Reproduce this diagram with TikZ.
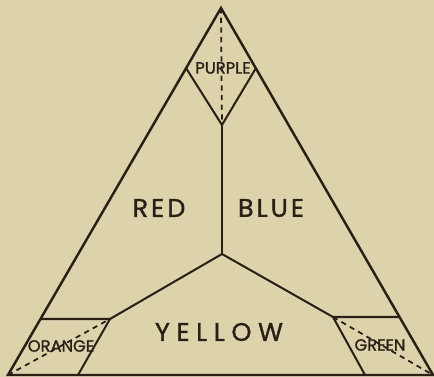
\documentclass[tikz,border=0pt]{standalone}
\usepackage{fontspec}
\setmainfont{Poppins}
\newfontfamily\labelfont{Poppins}[FakeBold=1.2]
\usetikzlibrary{positioning}
\definecolor{paper}{RGB}{221,211,171}
\definecolor{ink}{RGB}{40,32,24}

\begin{document}
\begin{tikzpicture}[
  x=0.02cm,y=-0.02cm,
  edge/.style={draw=ink,line width=1.4pt,line join=miter},
  thin/.style={draw=ink,line width=1.15pt},
  hidden/.style={draw=ink,line width=1pt,dashed,dash pattern=on 3pt off 2.5pt},
  big/.style={text=ink,inner sep=0pt,font=\labelfont\fontsize{14.5}{15}\selectfont\addfontfeature{LetterSpace=12}},
  huge/.style={text=ink,inner sep=0pt,font=\labelfont\fontsize{14.5}{15}\selectfont\addfontfeature{LetterSpace=26}},
  small/.style={text=ink,inner sep=0pt,font=\labelfont\fontsize{9.3}{10}\selectfont},
]
  \fill[paper] (0,0) rectangle (434,377);
  \useasboundingbox (0,0) rectangle (434,377);

  % corners of the big triangle
  \coordinate (apex) at (221,8);
  \coordinate (bl) at (8,375);
  \coordinate (br) at (433,375);

  % purple diamond
  \coordinate (pl) at (186,68);
  \coordinate (pr) at (256,68);
  \coordinate (pb) at (222,125);

  % centre and lower corners
  \coordinate (mid) at (222,254);
  \coordinate (ol) at (41,319);
  \coordinate (or) at (110,319);
  \coordinate (ob) at (78,375);
  \coordinate (gl) at (333,317);
  \coordinate (gr) at (400,317);
  \coordinate (gb) at (365,375);

  \draw[edge] (apex) -- (bl) -- (br) -- cycle;
  \draw[thin] (pl) -- (pb) -- (pr);
  \draw[hidden] (apex) -- (pb);
  \draw[thin] (pb) -- (mid);
  \draw[thin] (mid) -- (or);
  \draw[thin] (mid) -- (gl);

  % orange and green corners
  \draw[thin] (ol) -- (or) -- (ob);
  \draw[hidden] (bl) -- (or);
  \draw[thin] (gr) -- (gl) -- (gb);
  \draw[hidden] (gl) -- (br);

  % labels
  \node[small] (purple) at (223,68) {PURPLE};
  \node[big] (red) at (159,208) {RED};
  \node[big] (blue) at (271,208) {BLUE};
  \node[huge] (yellow) at (219,332) {YELLOW};
  \node[small] (orange) at (61,346) {ORANGE};
  \node[small] (green) at (380,345) {GREEN};
\end{tikzpicture}
\end{document}
